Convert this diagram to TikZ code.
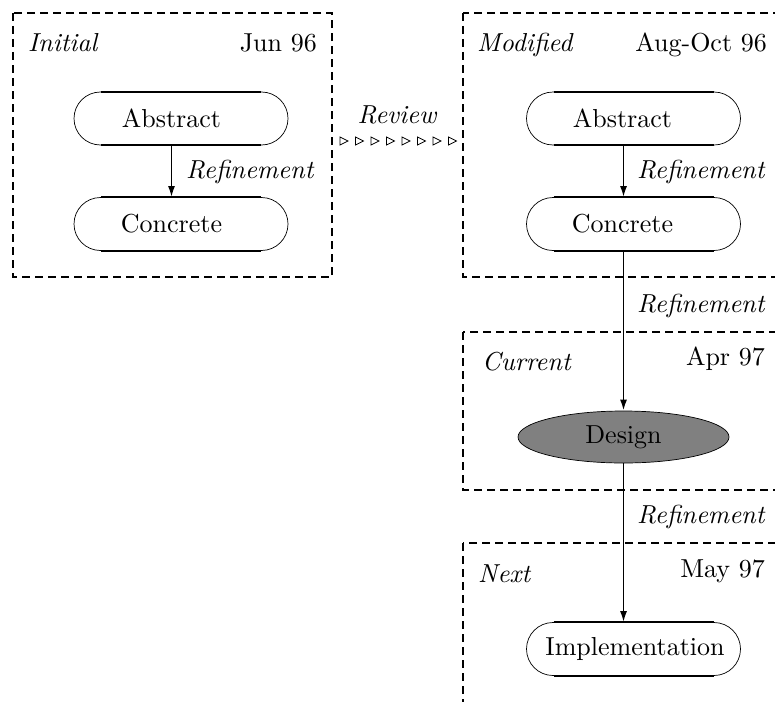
\documentclass[tikz,border=0pt]{standalone}
\usepackage{fontspec}
\setmainfont{lmroman10}[Extension=.otf,UprightFont=*-regular,ItalicFont=*-italic,BoldFont=*-bold]
\usetikzlibrary{arrows.meta,shapes.misc,shapes.geometric}
\begin{document}
\begin{tikzpicture}[x=1pt,y=-1pt,
  every node/.style={font=\fontsize{26}{31}\selectfont,inner sep=0pt},
  frame/.style={draw,dash pattern=on 8pt off 5pt,line width=2pt},
  pill/.style={rounded rectangle,draw,line width=0.7pt,minimum width=214pt,minimum height=53pt,inner sep=0pt},
  flat/.style={line width=1.8pt},
  refarrow/.style={line width=1.8pt,-{Latex[length=11pt,width=7pt]}},
  lab/.style={font=\fontsize{26}{31}\selectfont\itshape},
  tri/.style={line width=0.8pt}]
\path[use as bounding box,clip] (0,0) rectangle (775,701);
% frames
\draw[frame] (13,13) rectangle (332,277);
\draw[frame] (463,13) rectangle (800,277);
\draw[frame] (463,332) rectangle (800,490);
\draw[frame] (463,543) rectangle (800,720);
% frame titles
\node[lab,anchor=base west] (tinit) at (28,52) {Initial};
\node[anchor=base east] (dinit) at (317,52) {Jun 96};
\node[lab,anchor=base west] (tmod) at (477,52) {Modified};
\node[anchor=base east] (dmod) at (767,52) {Aug-Oct 96};
\node[lab,anchor=base west] (tcur) at (482,370) {Current};
\node[anchor=base east] (dcur) at (765,365) {Apr 97};
\node[lab,anchor=base west] (tnext) at (478,582) {Next};
\node[anchor=base east] (dnext) at (765,577) {May 97};
% pill outlines
\node[pill] (a1) at (181,118.5) {};
\node[pill] (c1) at (181,224) {};
\node[pill] (a2) at (633.5,118.5) {};
\node[pill] (c2) at (633.5,224) {};
\node[pill] (im) at (633.5,649) {};
\foreach \n in {a1,c1,a2,c2,im}{
  \draw[flat] ([xshift=-80pt]\n.north) -- ([xshift=80pt]\n.north);
  \draw[flat] ([xshift=-80pt]\n.south) -- ([xshift=80pt]\n.south);
}
% pill texts
\node (a1t) at (171.5,118.5) {Abstract};
\node (c1t) at (171.5,224) {Concrete};
\node (a2t) at (622.5,118.5) {Abstract};
\node (c2t) at (622.5,224) {Concrete};
\node (imt) at (635,649) {Implementation};
\node[ellipse,draw,fill=gray,line width=0.7pt,minimum width=211pt,minimum height=52pt,inner sep=0pt] (d) at (623.5,437) {Design};
% refinement arrows
\draw[refarrow] (a1.south -| c1t.center) -- (c1.north -| c1t.center);
\draw[refarrow] (a2.south -| d.north) -- (c2.north -| d.north);
\draw[refarrow] (c2.south -| d.north) -- (d.north);
\draw[refarrow] (d.south) -- (d.south |- im.north);
\node[lab,anchor=base west] (r1) at (186,178) {Refinement};
\node[lab,anchor=base west] (r2) at (637,178) {Refinement};
\node[lab,anchor=base west] (r3) at (637,312) {Refinement};
\node[lab,anchor=base west] (r4) at (637,523) {Refinement};
% review
\node[lab,anchor=base] (rev) at (397,123) {Review};
\foreach \i in {0,...,7}{
  \draw[tri] (340+15.5*\i,137) -- ++(8,4) -- ++(-8,4) -- cycle;
}
\end{tikzpicture}
\end{document}
